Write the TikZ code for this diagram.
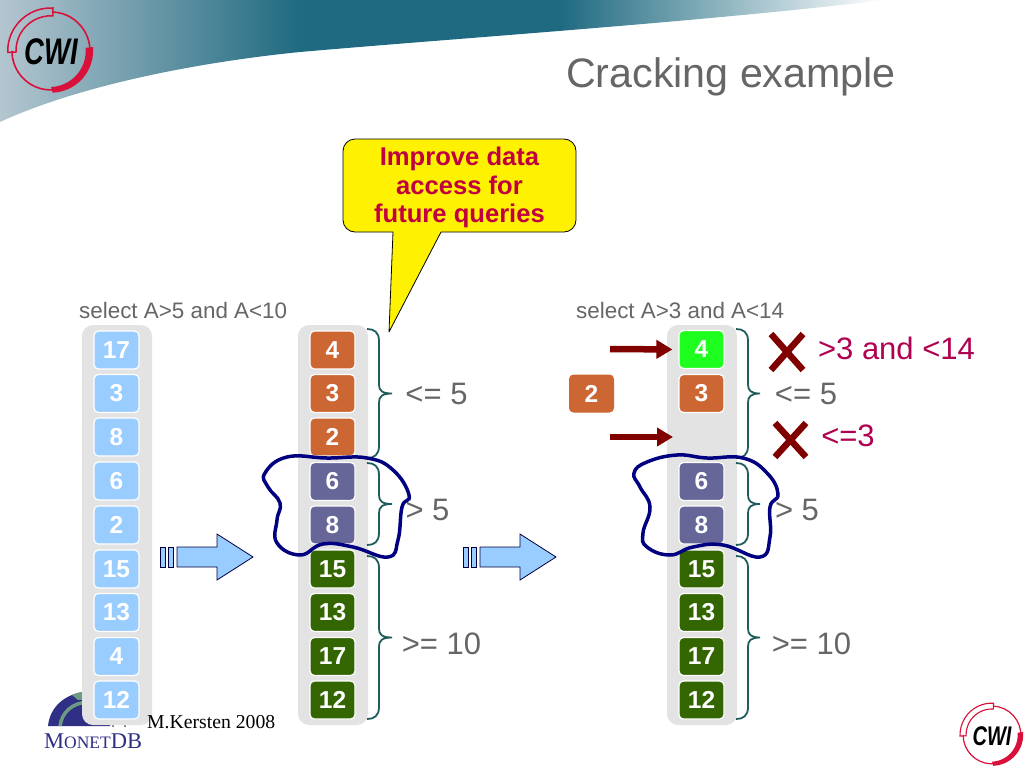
\documentclass[tikz,border=0pt]{standalone}
\usepackage{fontspec}
\usepackage{graphicx}
\setmainfont{Liberation Sans}
\newfontfamily\serifcredit{Liberation Serif}
\usetikzlibrary{arrows.meta,calc}
\definecolor{colgray}{HTML}{E3E3E3}
\definecolor{cellblue}{HTML}{99CCFF}
\definecolor{cellorange}{HTML}{CC6633}
\definecolor{cellpurple}{HTML}{666699}
\definecolor{cellgreen}{HTML}{336600}
\definecolor{cellbright}{HTML}{1FFF1F}
\definecolor{bracecol}{HTML}{1F5C5C}
\definecolor{labelgray}{HTML}{666666}
\definecolor{blobblue}{HTML}{000080}
\definecolor{darkred}{HTML}{800000}
\definecolor{magentared}{HTML}{B00050}
\definecolor{calloutred}{HTML}{C00040}
\definecolor{cwired}{HTML}{D8103A}
\definecolor{monetblue}{HTML}{2F2F86}
\definecolor{monetgreen}{HTML}{6E9A82}
\definecolor{bannerlight}{HTML}{B4C6D0}
\definecolor{bannerdark}{HTML}{1F6A80}
\tikzset{
  cell/.style={draw=white,line width=1.2pt,rounded corners=4.5pt,minimum width=45pt,minimum height=38pt,inner sep=0pt,text=white,font=\fontsize{24.5}{24.5}\selectfont\bfseries},
  bluecell/.style={cell,fill=cellblue},
  orangecell/.style={cell,fill=cellorange},
  purplecell/.style={cell,fill=cellpurple},
  greencell/.style={cell,fill=cellgreen},
  brightcell/.style={cell,fill=cellbright},
  column/.style={fill=colgray,rounded corners=11pt},
  bracepath/.style={draw=bracecol,line width=1.8pt},
  blob/.style={draw=blobblue,line width=3.5pt,smooth cycle,tension=0.75},
  biglabel/.style={text=labelgray,font=\fontsize{31}{31}\selectfont,inner sep=0pt},
  redlabel/.style={text=magentared,font=\fontsize{31}{31}\selectfont,inner sep=0pt},
  querylabel/.style={text=labelgray,font=\fontsize{22.4}{22.4}\selectfont,inner sep=0pt,anchor=west},
  blockarrow/.style={draw=black!75!blue,line width=0.8pt,fill=cellblue},
  redarrow/.style={draw=darkred,line width=6.5pt,-{Triangle[length=16pt,width=18pt]}},
  crossmark/.style={draw=darkred,line width=6.5pt}
}
\newcommand{\bracepair}[5]{% xstart, xvert, xtip, ytop, ybottom
  \pgfmathsetmacro{\bm}{(#4+#5)/2}
  \draw[bracepath] (#1,#4) .. controls (#2-5,#4) and (#2,#4+3) .. (#2,#4+12)
    -- (#2,\bm-9) .. controls (#2,\bm-3) and (#2+3,\bm) .. (#3,\bm)
    .. controls (#2+3,\bm) and (#2,\bm+3) .. (#2,\bm+9)
    -- (#2,#5-12) .. controls (#2,#5-3) and (#2-5,#5) .. (#1,#5);
}
\newcommand{\blockarr}[1]{%
  \begin{scope}[xshift=#1pt]
    \draw[blockarrow] (160,547) rectangle (165,567);
    \draw[blockarrow] (168,547) rectangle (173,567);
    \draw[blockarrow] (177,547) -- (217,547) -- (217,534) -- (253,557) -- (217,580) -- (217,567) -- (177,567) -- cycle;
  \end{scope}%
}
\newcommand{\cwilogo}[5]{% name, cx, cy, radius scale, font size
  \begin{scope}[shift={(#2,#3)},x=#4pt,y=#4pt]
    \draw[cwired,line width=#4*1.6pt] (2,39) arc[start angle=87,end angle=-180,radius=39];
    \draw[cwired,line width=#4*1.5pt] (2,43) arc[start angle=87,end angle=182,radius=43] -- (-35,-1) arc[start angle=182,end angle=87,radius=35] -- cycle;
    \fill[cwired] (42,4) arc[start angle=5,end angle=-88,radius=42] -- (0,-36) arc[start angle=-88,end angle=5,radius=36] -- cycle;
    \node[inner sep=0pt,text=black,font=\fontsize{#5}{#5}\selectfont\bfseries\itshape] (#1) at (0,-1) {\scalebox{0.74}[1]{CWI}};
  \end{scope}%
}
\begin{document}
\begin{tikzpicture}[x=1pt,y=-1pt]
\useasboundingbox (0,0) rectangle (1024,768);
\fill[white] (0,0) rectangle (1024,768);
% banner
\begin{scope}
  \clip (0,0) -- (885,0) .. controls (700,22) and (460,38) .. (300,52) .. controls (200,62) and (80,85) .. (0,122) -- cycle;
  \shade[left color=bannerlight,right color=bannerdark] (0,0) rectangle (300.5,130);
  \fill[bannerdark] (300,0) rectangle (560.5,130);
  \shade[left color=bannerdark,right color=white] (560,0) rectangle (885,130);
\end{scope}
\cwilogo{logotop}{51}{51}{1.0}{37}
\cwilogo{logobottom}{992}{735}{0.74}{27}
\node[text=labelgray,font=\fontsize{41.2}{41.2}\selectfont,inner sep=0pt] (title) at (731,77) {Cracking example};
% MonetDB logo
\fill[monetblue] (48,726) .. controls (50,706) and (66,694) .. (84,692) -- (110,692) -- (110,726) -- cycle;
\fill[monetgreen] (72,695) .. controls (76,693) and (80,692) .. (84,692) -- (110,692) -- (110,698) -- (78,700) -- cycle;
\draw[monetgreen,line width=3.5pt] (60,726) .. controls (62,712) and (72,703) .. (88,702);
\node[anchor=west,inner sep=0pt,text=monetblue,font=\serifcredit\fontsize{22.5}{22.5}\selectfont] (monet) at (44,741) {M\fontsize{17.5}{17.5}\selectfont ONET\fontsize{22.5}{22.5}\selectfont DB};
% columns
\fill[column] (82,325) rectangle (152,725);
\fill[column] (298,325) rectangle (368,725);
\fill[column] (667,325) rectangle (737,725);
\fill[black!70] (113,726) circle (1pt) (125,726) circle (1pt);
\node[anchor=west,inner sep=0pt,text=black,font=\serifcredit\fontsize{19.7}{19.7}\selectfont] (credit) at (147,722) {M.Kersten 2008};
% column 1
\node[bluecell] (a1) at (116.5,350) {17};
\node[bluecell] (a2) at (116.5,393.5) {3};
\node[bluecell] (a3) at (116.5,437) {8};
\node[bluecell] (a4) at (116.5,481) {6};
\node[bluecell] (a5) at (116.5,525) {2};
\node[bluecell] (a6) at (116.5,569) {15};
\node[bluecell] (a7) at (116.5,612.5) {13};
\node[bluecell] (a8) at (116.5,656.5) {4};
\node[bluecell] (a9) at (116.5,700) {12};
% column 2
\node[orangecell] (b1) at (332.5,350) {4};
\node[orangecell] (b2) at (332.5,393.5) {3};
\node[orangecell] (b3) at (332.5,437) {2};
\node[purplecell] (b4) at (332.5,481.5) {6};
\node[purplecell] (b5) at (332.5,525) {8};
\node[greencell] (b6) at (332.5,569) {15};
\node[greencell] (b7) at (332.5,612.5) {13};
\node[greencell] (b8) at (332.5,656.5) {17};
\node[greencell] (b9) at (332.5,700) {12};
% column 3
\node[brightcell] (c1) at (701.5,349.5) {4};
\node[orangecell] (c2) at (701.5,393.5) {3};
\node[purplecell] (c4) at (701.5,481.5) {6};
\node[purplecell] (c5) at (701.5,525) {8};
\node[greencell] (c6) at (701.5,569) {15};
\node[greencell] (c7) at (701.5,612.5) {13};
\node[greencell] (c8) at (701.5,656.5) {17};
\node[greencell] (c9) at (701.5,700) {12};
\node[orangecell,draw=none] (moved) at (591.5,393.5) {2};
% braces
\bracepair{367}{379}{392}{329}{458}
\bracepair{367}{379}{392}{463}{545}
\bracepair{367}{379}{392}{556}{719}
\bracepair{736}{748}{760}{329}{458}
\bracepair{736}{748}{760}{463}{545}
\bracepair{736}{748}{760}{556}{719}
% block arrows
\blockarr{0}
\blockarr{303}
% callout
\draw[fill=yellow,draw=black,line width=0.8pt,line join=round] (355,139) -- (564,139) arc[start angle=-90,end angle=0,radius=12] -- (576,220) arc[start angle=0,end angle=90,radius=12] -- (441,232) -- (389,332) -- (393,232) -- (355,232) arc[start angle=90,end angle=180,radius=12] -- (343,151) arc[start angle=180,end angle=270,radius=12] -- cycle;
\node[align=center,text=calloutred,inner sep=0pt,font=\fontsize{25.6}{28.7}\selectfont\bfseries] (callout) at (459.5,187.5) {Improve data\\access for\\future queries};
% queries
\node[querylabel] (q1) at (79,310) {select A>5 and A<10};
\node[querylabel] (q2) at (576,310) {select A>3 and A<14};
% labels
\node[biglabel] (l1) at (436.5,394) {<= 5};
\node[biglabel] (l2) at (427.5,510) {> 5};
\node[biglabel] (l3) at (441.5,644) {>= 10};
\node[biglabel] (r1) at (806,394) {<= 5};
\node[biglabel] (r2) at (797,510) {> 5};
\node[biglabel] (r3) at (811.5,644) {>= 10};
\node[redlabel] (r4) at (896.5,348) {>3 and <14};
\node[redlabel] (r5) at (848,436) {<=3};
% red arrows
\coordinate (ra1) at (610,349);
\coordinate (ra2) at (610,437);
\coordinate (ra3) at (673,437);
\draw[redarrow,shorten >=6pt] (ra1) -- (c1.west);
\draw[redarrow] (ra2) -- (ra3);
% crosses
\draw[crossmark] (771,334) -- (803,370) (803,334) -- (771,370);
\draw[crossmark] (775,423) -- (806,457) (806,423) -- (775,457);
% blobs
\draw[blob] plot coordinates {(265,473) (287,457) (327,458) (367,458) (393,470) (409,495) (402,507) (398,540) (388,557) (353,547) (323,544) (300,555) (277,543) (277,520) (280,503) (268,487)};
\draw[blob] plot coordinates {(634,473) (647,462) (677,455) (707,458) (743,458) (767,473) (778,494) (770,507) (770,537) (760,557) (723,545) (693,547) (670,555) (647,547) (643,533) (650,507) (640,487)};
\end{tikzpicture}
\end{document}
